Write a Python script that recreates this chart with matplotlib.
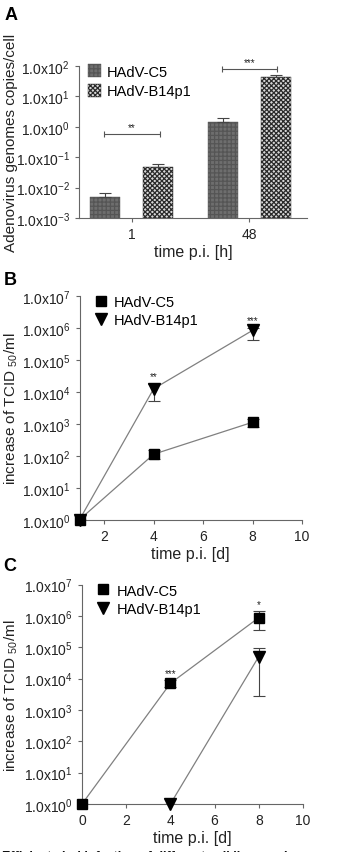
import matplotlib
matplotlib.use("Agg")
import matplotlib.pyplot as plt
from matplotlib.ticker import FixedLocator, NullLocator
import numpy as np

plt.rcParams['font.family'] = ['Liberation Sans', 'DejaVu Sans']
plt.rcParams['mathtext.fontset'] = 'custom'
plt.rcParams['mathtext.rm'] = 'Liberation Sans'
plt.rcParams['mathtext.it'] = 'Liberation Sans'
plt.rcParams['hatch.linewidth'] = 0.9

# ---------------- Data ----------------
# Panel A
a_times = ["1", "48"]
a_c5 = [0.0049, 1.44]
a_c5_err = [0.0019, 0.56]
a_b14 = [0.048, 43.6]
a_b14_err = [0.010, 6.4]
a_sig = ["**", "***"]
a_sig_level = [0.59, 82]

# Panel B
b_days = [1, 4, 8]
b_c5 = [1.0, 112, 1120]
b_c5_lo = [0, 35, 330]
b_c5_hi = [0, 40, 250]
b_b14 = [1.0, 12500, 840000]
b_b14_lo = [0, 7500, 430000]
b_b14_hi = [0, 5300, 160000]
b_sig_days = [4, 8]
b_sig = ["**", "***"]

# Panel C
c_c5_days = [0, 4, 8]
c_c5 = [1.0, 7100, 890000]
c_c5_lo = [0, 1500, 540000]
c_c5_hi = [0, 1800, 510000]
c_b14_days = [4, 8]
c_b14 = [1.0, 51000]
c_b14_lo = [0, 48200]
c_b14_hi = [0, 42000]
c_sig_days = [4, 8]
c_sig = ["***", "*"]

series_labels = ["HAdV-C5", "HAdV-B14p1"]

W, H = 337, 853
fig = plt.figure(figsize=(W / 100, H / 100), dpi=100)

def ax_at(l, r, t, b):
    return fig.add_axes([l / W, 1 - b / H, (r - l) / W, (b - t) / H])

spine_col = '#666666'
txt_col = '#222222'
line_col = '#808080'
err_col = '#444444'

def style(ax):
    for s in ['top', 'right']:
        ax.spines[s].set_visible(False)
    for s in ['left', 'bottom']:
        ax.spines[s].set_color(spine_col)
        ax.spines[s].set_linewidth(0.8)
    ax.tick_params(colors=spine_col, labelcolor=txt_col, labelsize=10,
                   length=3, width=0.8, direction='out')

def log_labels(ax, lo, hi):
    ax.yaxis.set_major_locator(FixedLocator([10.0 ** e for e in range(lo, hi + 1)]))
    ax.yaxis.set_minor_locator(NullLocator())
    ax.set_yticklabels([r'1.0x10$^{%d}$' % e for e in range(lo, hi + 1)])

def place_ylabel(ax, xpix):
    pos = ax.get_position()
    xa = (xpix / W - pos.x0) / pos.width
    ax.yaxis.set_label_coords(xa, 0.5)

# ---------------- Panel A ----------------
axA = ax_at(79, 307, 67, 219)
style(axA)
axA.set_yscale('log')
axA.set_ylim(1e-3, 1e2)
log_labels(axA, -3, 2)
x = np.arange(len(a_times))
off, wid = 0.225, 0.255
base = 1e-3
axA.bar(x - off, np.array(a_c5) - base, wid, bottom=base, facecolor='#6e6e6e',
        edgecolor='#555555', hatch='++++', linewidth=0.3, label=series_labels[0])
axA.bar(x + off, np.array(a_b14) - base, wid, bottom=base, facecolor='#d8d8d8',
        edgecolor='#2a2a2a', hatch='xxxxxxx', linewidth=0.3, label=series_labels[1])
axA.errorbar(x - off, a_c5, yerr=[[0, 0], a_c5_err], fmt='none', ecolor=err_col,
             elinewidth=0.8, capsize=4, capthick=0.8)
axA.errorbar(x + off, a_b14, yerr=[[0, 0], a_b14_err], fmt='none', ecolor=err_col,
             elinewidth=0.8, capsize=4, capthick=0.8)
axA.set_xlim(-0.45, 1.49)
axA.set_xticks(x)
axA.set_xticklabels(a_times)
axA.set_xlabel('time p.i. [h]', fontsize=11.5, color=txt_col, labelpad=2)
axA.set_ylabel('Adenovirus genomes copies/cell', fontsize=11, color=txt_col)
place_ylabel(axA, 18)
for i, (s, ylev) in enumerate(zip(a_sig, a_sig_level)):
    eb = axA.errorbar([x[i]], [ylev], xerr=[[off + 0.01], [off + 0.01]], fmt='none',
                      ecolor='#555555', elinewidth=0.8, capsize=2.5, capthick=0.8)
    for art in eb.lines[1] + eb.lines[2]:
        art.set_clip_on(False)
    axA.text(x[i], ylev * 1.12, s, ha='center', va='bottom', fontsize=7,
             color=txt_col, clip_on=False)
axA.legend(loc='upper left', bbox_to_anchor=(0.0, 1.07), frameon=False, fontsize=10.5,
           handlelength=0.9, handleheight=1.0, handletextpad=0.4, labelspacing=0.35,
           borderaxespad=0.2)
fig.text(11 / W, 1 - 15 / H, 'A', fontsize=13, fontweight='bold', ha='center', va='center')

def line_panel(ax, xs1, y1, lo1, hi1, xs2, y2, lo2, hi2):
    ax.errorbar(xs1, y1, yerr=[lo1, hi1], fmt='none', ecolor=err_col,
                elinewidth=0.8, capsize=4, capthick=0.8, zorder=2)
    ax.errorbar(xs2, y2, yerr=[lo2, hi2], fmt='none', ecolor=err_col,
                elinewidth=0.8, capsize=4, capthick=0.8, zorder=2)
    ax.plot(xs1, y1, 's-', color=line_col, mfc='black', mec='black', ms=7.5, lw=0.9,
            label=series_labels[0], clip_on=False, zorder=3)
    ax.plot(xs2, y2, 'v-', color=line_col, mfc='black', mec='black', ms=8, lw=0.9,
            label=series_labels[1], clip_on=False, zorder=3)
    leg = ax.legend(loc='upper left', bbox_to_anchor=(0.03, 1.045), frameon=False,
                    fontsize=10.5, handlelength=0.8, handletextpad=0.5,
                    labelspacing=0.3, borderaxespad=0.2, numpoints=1)
    for h in leg.legend_handles:
        h.set_linestyle('none')

# ---------------- Panel B ----------------
axB = ax_at(79.5, 302, 297, 520.7)
style(axB)
axB.set_yscale('log')
axB.set_ylim(1, 1e7)
log_labels(axB, 0, 7)
axB.set_xlim(1, 10)
axB.set_xticks([2, 4, 6, 8, 10])
line_panel(axB, b_days, b_c5, b_c5_lo, b_c5_hi, b_days, b_b14, b_b14_lo, b_b14_hi)
for d, s in zip(b_sig_days, b_sig):
    i = b_days.index(d)
    axB.text(d, (b_b14[i] + b_b14_hi[i]) * 1.2, s, ha='center', va='bottom',
             fontsize=7, color=txt_col)
axB.set_xlabel('time p.i. [d]', fontsize=11.5, color=txt_col, labelpad=2)
axB.set_ylabel(r'increase of TCID $_{50}$/ml', fontsize=11, color=txt_col)
place_ylabel(axB, 20)
fig.text(10 / W, 1 - 281 / H, 'B', fontsize=13, fontweight='bold', ha='center', va='center')

# ---------------- Panel C ----------------
axC = ax_at(82, 303, 585.7, 805)
style(axC)
axC.set_yscale('log')
axC.set_ylim(1, 1e7)
log_labels(axC, 0, 7)
axC.set_xlim(0, 10)
axC.set_xticks([0, 2, 4, 6, 8, 10])
line_panel(axC, c_c5_days, c_c5, c_c5_lo, c_c5_hi, c_b14_days, c_b14, c_b14_lo, c_b14_hi)
for d, s in zip(c_sig_days, c_sig):
    i = c_c5_days.index(d)
    axC.text(d, (c_c5[i] + c_c5_hi[i]) * 1.2, s, ha='center', va='bottom',
             fontsize=7, color=txt_col)
axC.set_xlabel('time p.i. [d]', fontsize=11.5, color=txt_col, labelpad=2)
axC.set_ylabel(r'increase of TCID $_{50}$/ml', fontsize=11, color=txt_col)
place_ylabel(axC, 20)
fig.text(10 / W, 1 - 567 / H, 'C', fontsize=13, fontweight='bold', ha='center', va='center')

# caption, cropped at the bottom edge as in the reference
fig.text(2 / W, 1 - 857 / H, 'Efficient viral infection of different cell lines and',
         fontsize=9, fontweight='bold', ha='left', va='center', color='#111111')

fig.savefig('out.png', dpi=100)
